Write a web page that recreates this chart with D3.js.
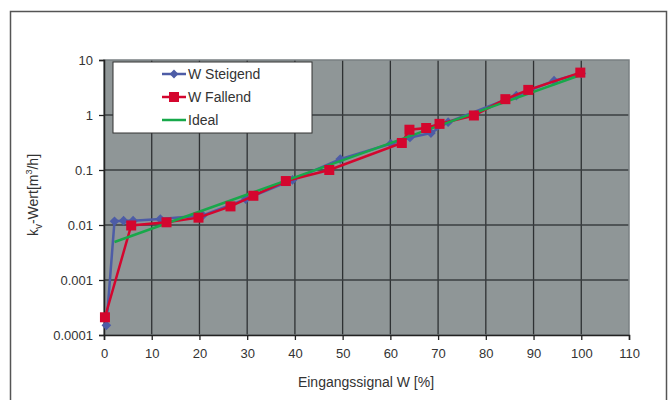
<!DOCTYPE html>
<html>
<head>
<meta charset="utf-8">
<script src="https://cdn.jsdelivr.net/npm/d3@7"></script>
<style>
  body { margin: 0; background: #fff; }
  svg text { font-family: "Liberation Sans", Arial, sans-serif; fill: #333; }
</style>
</head>
<body>
<div id="chart"></div>
<script>
// data
const steigendW  = [0.5, 2.2, 4.1, 6.1, 11.8, 20.7, 29.7, 39.5, 49.5, 60.1, 64.1, 68.5, 72.1, 86.4, 94.3, 100];
const steigendKv = [0.00015, 0.0117, 0.012, 0.012, 0.0128, 0.0149, 0.0296, 0.066, 0.158, 0.30, 0.39, 0.47, 0.74, 2.25, 4.2, 5.7];
const fallendW   = [0.2, 5.7, 13.1, 19.8, 26.5, 31.3, 38.1, 47.2, 62.4, 64.0, 67.5, 70.3, 77.5, 84.1, 88.9, 99.8];
const fallendKv  = [0.00021, 0.0098, 0.0112, 0.0136, 0.0218, 0.034, 0.063, 0.1, 0.31, 0.54, 0.58, 0.69, 0.98, 1.94, 2.86, 5.9];
const idealW     = [2.2, 100];
const idealKv    = [0.0049, 5.4];
const xTicks = [0, 10, 20, 30, 40, 50, 60, 70, 80, 90, 100, 110];
const yTicks = [0.0001, 0.001, 0.01, 0.1, 1, 10];
const yTickLabels = ["0.0001", "0.001", "0.01", "0.1", "1", "10"];

const width = 670, height = 400;
const margin = { top: 60, right: 41, bottom: 65, left: 104 };
const innerW = width - margin.left - margin.right;
const innerH = height - margin.top - margin.bottom;

const colors = { steigend: "#4d5ca6", fallend: "#d4062e", ideal: "#17a84a" };

const svg = d3.select("#chart").append("svg")
  .attr("width", width).attr("height", height);

// outer frame
svg.append("rect")
  .attr("x", 10.5).attr("y", 11.5)
  .attr("width", 656).attr("height", 400)
  .attr("fill", "none").attr("stroke", "#555").attr("stroke-width", 1.5);

const g = svg.append("g").attr("transform", `translate(${margin.left},${margin.top})`);

const x = d3.scaleLinear().domain([0, 110]).range([0, innerW]);
const y = d3.scaleLog().domain([0.0001, 10]).range([innerH, 0]);

// plot background
g.append("rect").attr("width", innerW).attr("height", innerH).attr("fill", "#8f9697");

// grid
g.append("g").selectAll("line.v").data(xTicks.slice(1, -1)).enter().append("line")
  .attr("x1", d => x(d)).attr("x2", d => x(d))
  .attr("y1", 0).attr("y2", innerH)
  .attr("stroke", "#2e3133").attr("stroke-width", 1.3);
g.append("g").selectAll("line.h").data(yTicks.slice(1, -1)).enter().append("line")
  .attr("x1", 0).attr("x2", innerW)
  .attr("y1", d => y(d)).attr("y2", d => y(d))
  .attr("stroke", "#3a3e40").attr("stroke-width", 1.3);

// plot border (top/right lighter)
g.append("rect").attr("width", innerW).attr("height", innerH)
  .attr("fill", "none").attr("stroke", "#7a8083").attr("stroke-width", 1.5);

// axes
const xAxis = g.append("g").attr("transform", `translate(0,${innerH})`)
  .call(d3.axisBottom(x).tickValues(xTicks).tickSize(5).tickPadding(9).tickFormat(d3.format("d")));
const yAxis = g.append("g")
  .call(d3.axisLeft(y).tickValues(yTicks).tickSize(5).tickPadding(6).tickFormat((d, i) => yTickLabels[i]));
[xAxis, yAxis].forEach(a => {
  a.select(".domain").attr("stroke", "#222").attr("stroke-width", 1.5);
  a.selectAll(".tick line").attr("stroke", "#222").attr("stroke-width", 1.3);
  a.selectAll("text").attr("font-size", 13).attr("fill", "#333")
    .style("font-family", "'Liberation Sans', Arial, sans-serif");
});

// series
const line = d3.line().x(d => x(d[0])).y(d => y(d[1]));
const zip = (a, b) => a.map((v, i) => [v, b[i]]);
const idealData = zip(idealW, idealKv);
const steigendData = zip(steigendW, steigendKv);
const fallendData = zip(fallendW, fallendKv);

g.append("path").datum(steigendData).attr("d", line)
  .attr("fill", "none").attr("stroke", colors.steigend).attr("stroke-width", 2.5);
g.selectAll(".dia").data(steigendData).enter().append("path")
  .attr("d", d3.symbol(d3.symbolDiamond2, 60)())
  .attr("transform", d => `translate(${x(d[0])},${y(d[1])})`)
  .attr("fill", colors.steigend);

g.append("path").datum(fallendData).attr("d", line)
  .attr("fill", "none").attr("stroke", colors.fallend).attr("stroke-width", 2.5);
g.append("path").datum(idealData).attr("d", line)
  .attr("fill", "none").attr("stroke", colors.ideal).attr("stroke-width", 2.5);
g.selectAll(".sq").data(fallendData).enter().append("rect")
  .attr("x", d => x(d[0]) - 5).attr("y", d => y(d[1]) - 5)
  .attr("width", 10).attr("height", 10)
  .attr("fill", colors.fallend);

// legend
const legend = svg.append("g").attr("transform", "translate(113,62)");
legend.append("rect").attr("width", 199).attr("height", 71)
  .attr("fill", "#fff").attr("stroke", "#333").attr("stroke-width", 1);
const items = [
  { name: "W Steigend", color: colors.steigend, marker: "diamond" },
  { name: "W Fallend", color: colors.fallend, marker: "square" },
  { name: "Ideal", color: colors.ideal, marker: null }
];
items.forEach((it, i) => {
  const yy = 12 + i * 23;
  legend.append("line").attr("x1", 49).attr("x2", 73).attr("y1", yy).attr("y2", yy)
    .attr("stroke", it.color).attr("stroke-width", 2.5);
  if (it.marker === "diamond") {
    legend.append("path").attr("d", d3.symbol(d3.symbolDiamond2, 50)())
      .attr("transform", `translate(61,${yy})`).attr("fill", it.color);
  } else if (it.marker === "square") {
    legend.append("rect").attr("x", 56).attr("y", yy - 5).attr("width", 10).attr("height", 10)
      .attr("fill", it.color);
  }
  legend.append("text").attr("x", 75).attr("y", yy + 5)
    .attr("font-size", 14).text(it.name);
});

// axis titles
svg.append("text").attr("x", 366).attr("y", 387).attr("text-anchor", "middle")
  .attr("font-size", 14).text("Eingangssignal W [%]");

const yt = svg.append("text")
  .attr("transform", "translate(38,195) rotate(-90)")
  .attr("text-anchor", "middle").attr("font-size", 14);
yt.append("tspan").text("k");
yt.append("tspan").attr("font-size", 10).attr("dy", 4).text("v");
yt.append("tspan").attr("dy", -4).text("-Wert[m");
yt.append("tspan").attr("font-size", 9).attr("dy", -6).text("3");
yt.append("tspan").attr("dy", 6).text("/h]");
</script>
</body>
</html>
